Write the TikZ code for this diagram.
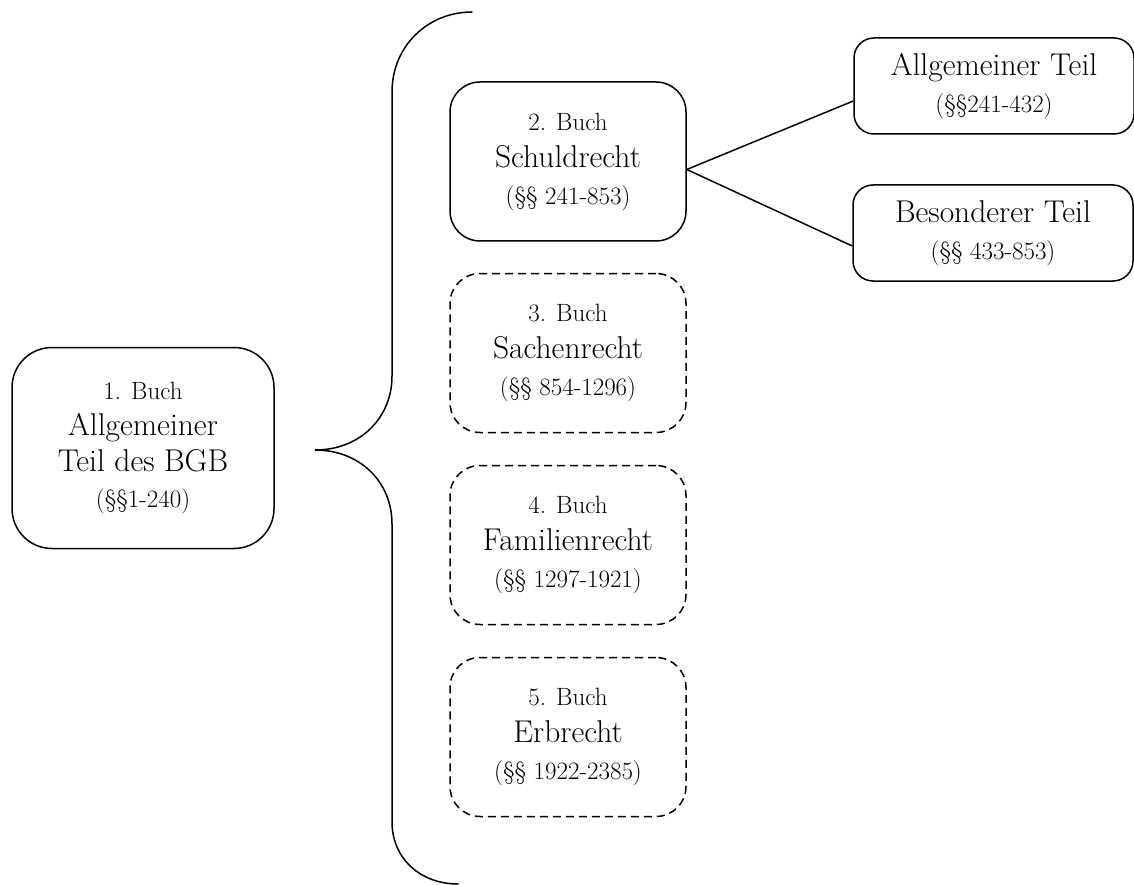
\documentclass[tikz,border=0pt]{standalone}
\usepackage{fontspec}
\newcommand{\lgtext}{\fontsize{31.5}{37}\selectfont}
\tikzset{
  box/.style={draw, line width=1.5pt, rounded corners=30pt, align=center,
    inner sep=0pt, minimum width=236pt, minimum height=159pt,
    font=\fontsize{25}{37}\selectfont},
  dbox/.style={box, dash pattern=on 8pt off 5pt},
  sidebox/.style={box, rounded corners=20pt, minimum width=280pt, minimum height=96pt},
  link/.style={line width=1.5pt},
  brace/.style={line width=1.5pt, line cap=round}
}
\begin{document}
\begin{tikzpicture}[x=1pt, y=-1pt]
\useasboundingbox (0,0) rectangle (1134,885);

% first book
\node[box, rounded corners=40pt, minimum width=262pt, minimum height=201pt,
  font=\fontsize{25}{36}\selectfont] (b1) at (143,448)
  {1. Buch\\ \fontsize{31.5}{36}\selectfont Allgemeiner\\
   \fontsize{31.5}{36}\selectfont Teil des BGB\\ (§§1-240)};

% curly bracket grouping books 2 to 5
\draw[brace] (472,12) .. controls (428,12) and (392,46) .. (392,92)
  -- (392,376) .. controls (392,418) and (360,450) .. (315,450)
  .. controls (360,450) and (392,482) .. (392,524)
  -- (392,822) .. controls (392,858) and (420,884) .. (458,884);

% books 2 to 5
\node[box] (b2) at (568,161.5) {2. Buch\\ \lgtext Schuldrecht\\ (§§ 241-853)};
\node[dbox] (b3) at (568,353) {3. Buch\\ \lgtext Sachenrecht\\ (§§ 854-1296)};
\node[dbox] (b4) at (568,545) {4. Buch\\ \lgtext Familienrecht\\ (§§ 1297-1921)};
\node[dbox] (b5) at (568,737) {5. Buch\\ \lgtext Erbrecht\\ (§§ 1922-2385)};

% parts of the law of obligations
\node[sidebox] (at) at (994,86) {\lgtext Allgemeiner Teil\\ (§§241-432)};
\node[sidebox] (bt) at (993,233) {\lgtext Besonderer Teil\\ (§§ 433-853)};

\coordinate (fork) at ([yshift=-8pt]b2.east);
\draw[link] (fork) -- ([yshift=-15pt]at.west);
\draw[link] (fork) -- ([yshift=-13pt]bt.west);
\end{tikzpicture}
\end{document}
